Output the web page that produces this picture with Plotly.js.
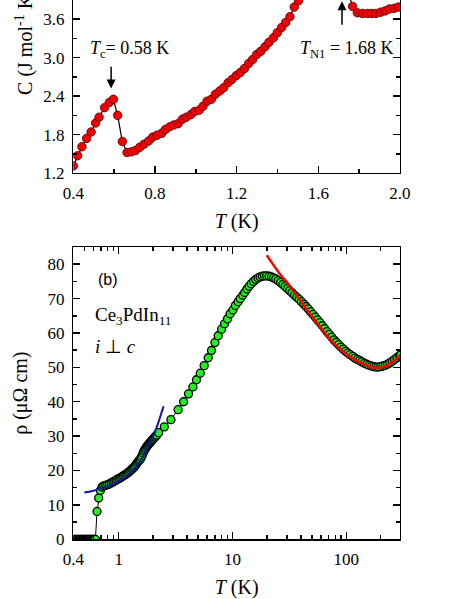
<!DOCTYPE html>
<html>
<head>
<meta charset="utf-8">
<script src="https://cdn.plot.ly/plotly-3.0.1.min.js"></script>
<style>
  html, body { margin: 0; padding: 0; background: #fff; }
  #chart { width: 463px; height: 599px; }
</style>
</head>
<body>
<div id="chart"></div>
<script>
// (a) specific heat, C vs T
var c_T = [0.400, 0.421, 0.442, 0.465, 0.487, 0.509, 0.526, 0.553, 0.576, 0.596,
    0.617, 0.640, 0.663, 0.684, 0.704, 0.725, 0.746, 0.769, 0.789, 0.810,
    0.833, 0.851, 0.872, 0.892, 0.913, 0.934, 0.953, 0.975, 0.994, 1.016,
    1.035, 1.055, 1.076, 1.096, 1.117, 1.136, 1.158, 1.177, 1.198, 1.218,
    1.238, 1.259, 1.278, 1.298, 1.318, 1.339, 1.358, 1.380, 1.399, 1.420,
    1.440, 1.461, 1.482, 1.503, 1.523, 1.544, 1.565, 1.586, 1.607, 1.628,
    1.649, 1.670, 1.690, 1.710, 1.730, 1.750, 1.768, 1.791, 1.817, 1.840,
    1.861, 1.882, 1.905, 1.927, 1.948, 1.971, 1.992];
var c_C = [1.31, 1.47, 1.61, 1.74, 1.84, 1.98, 2.07, 2.22, 2.30, 2.35,
    2.10, 1.69, 1.52, 1.53, 1.55, 1.60, 1.65, 1.70, 1.76, 1.79,
    1.82, 1.88, 1.92, 1.95, 1.97, 2.04, 2.07, 2.11, 2.16, 2.18,
    2.24, 2.32, 2.35, 2.43, 2.48, 2.53, 2.61, 2.66, 2.72, 2.77,
    2.83, 2.91, 2.97, 3.05, 3.10, 3.17, 3.24, 3.31, 3.39, 3.47,
    3.55, 3.64, 3.79, 3.89, 4.00, 4.10, 4.21, 4.32, 4.43, 4.55,
    4.66, 4.76, 4.83, 4.70, 4.35, 3.98, 3.80, 3.70, 3.69, 3.69,
    3.69, 3.69, 3.71, 3.73, 3.76, 3.77, 3.79];

// (b) resistivity, rho vs T
var rho_T = [0.40, 0.41, 0.42, 0.43, 0.44, 0.45, 0.46, 0.47, 0.48, 0.49,
    0.50, 0.51, 0.52, 0.53, 0.54, 0.55, 0.56, 0.57, 0.58, 0.59,
    0.60, 0.61, 0.625, 0.646, 0.668, 0.691, 0.715,
    0.74, 0.77, 0.80, 0.83, 0.86, 0.89, 0.92, 0.95, 0.98, 1.01,
    1.04, 1.07, 1.10, 1.13, 1.16, 1.19, 1.22, 1.25, 1.28, 1.31,
    1.34, 1.37, 1.40, 1.43, 1.46, 1.49, 1.52, 1.55, 1.58, 1.61,
    1.64, 1.67, 1.70, 1.73, 1.76, 1.79, 1.82, 1.85, 1.88, 1.91,
    1.94, 1.97, 2.00, 2.04, 2.08, 2.12, 2.16, 2.245,
    2.52, 2.88, 3.33, 3.72, 4.11, 4.49, 4.83, 5.21, 5.64, 6.12,
    6.54, 7.01, 7.49, 8.02, 8.52, 9.05, 9.54, 10.1, 10.6, 11.2,
    11.7, 12.3,
    12.8, 13.4, 14.0, 14.6, 15.3, 16.0, 16.8, 17.5, 18.3, 19.1,
    20.0, 21.0, 22.0, 23.0, 24.0, 25.2, 26.4, 27.7, 29.0, 30.4,
    31.8, 33.3, 35.0, 36.7, 38.5, 40.3, 42.3, 44.3, 46.4, 48.6,
    51.0, 53.5, 56.0, 58.7, 61.6, 64.5, 67.6, 70.9, 74.3, 77.9,
    81.6, 85.6, 89.7, 94.0, 98.5, 103, 108, 114, 119, 125,
    131, 137, 144, 151, 158, 166, 174, 182, 191, 200,
    210, 220, 230, 241, 253, 265, 278, 291, 300];
var rho_val = [0, 0, 0, 0, 0, 0, 0, 0, 0, 0,
    0, 0, 0, 0, 0, 0, 0, 0, 0, 0,
    0, 0, 0, 8.1, 12.0, 14.2, 15.2,
    15.5, 15.7, 15.9, 16.1, 16.4, 16.7, 16.9, 17.2, 17.5, 17.7,
    17.9, 18.2, 18.5, 18.7, 18.9, 19.2, 19.5, 19.8, 20.1, 20.4,
    20.7, 21.0, 21.4, 21.9, 22.3, 22.7, 23.0, 23.3, 23.8, 24.4,
    25.1, 25.7, 26.1, 26.5, 26.9, 27.2, 27.5, 27.8, 28.1, 28.3,
    28.6, 28.9, 29.1, 29.4, 29.7, 30.0, 30.3, 31.0,
    32.7, 34.8, 37.7, 40.0, 42.3, 44.3, 46.4, 48.3, 50.5, 52.8,
    54.9, 57.2, 59.2, 61.1, 62.7, 64.1, 65.6, 66.7, 68.0, 69.1,
    70.0, 71.0,
    71.8, 72.8, 73.6, 74.3, 75.0, 75.6, 76.0, 76.3, 76.5, 76.6,
    76.6, 76.5, 76.3, 76.0, 75.7, 75.2, 74.7, 74.1, 73.5, 72.9,
    72.3, 71.7, 71.0, 70.4, 69.8, 69.1, 68.4, 67.7, 67.0, 66.2,
    65.4, 64.6, 63.8, 63.0, 62.1, 61.3, 60.4, 59.6, 58.8, 58.0,
    57.3, 56.6, 55.9, 55.3, 54.7, 54.2, 53.7, 53.2, 52.7, 52.3,
    52.0, 51.6, 51.2, 50.9, 50.6, 50.4, 50.2, 50.1, 50.1, 50.2,
    50.4, 50.6, 50.9, 51.3, 51.8, 52.3, 52.8, 53.3, 53.6];

// low-T fit (blue) and high-T fit (red)
var fitLow_T = [0.50, 0.55, 0.60, 0.65, 0.70, 0.80, 0.90, 1.0, 1.1, 1.2,
    1.35, 1.5, 1.65, 1.8, 1.95, 2.1, 2.25, 2.4, 2.48];
var fitLow_rho = [13.6, 13.8, 14.1, 14.5, 14.9, 15.6, 16.2, 16.9, 17.7, 18.6,
    20.2, 22.1, 24.3, 26.6, 29.0, 31.5, 34.3, 37.2, 38.7];
var fitHigh_T = [20, 22, 24, 26, 28, 30, 33, 36, 40, 45,
    50, 55, 60, 67, 75, 85, 95, 105, 120, 135,
    150, 165, 180, 200, 220, 240, 260, 280, 300];
var fitHigh_rho = [82.6, 80.6, 78.8, 77.2, 75.9, 74.8, 72.9, 71.2, 69.2, 66.8,
    64.8, 63.0, 61.4, 59.3, 57.5, 55.8, 54.4, 53.3, 52.1, 51.3,
    50.6, 50.1, 49.9, 50.0, 50.4, 51.0, 51.8, 52.7, 53.7];

var rhoTickVals = [0.4, 1, 10, 100];
var rhoTickText = ['0.4', '1', '10', '100'];
var rhoMinorVals = [0.5, 0.6, 0.7, 0.8, 0.9, 2, 3, 4, 5, 6, 7, 8, 9,
    20, 30, 40, 50, 60, 70, 80, 90, 200];

var serif = '"Liberation Serif", "Times New Roman", serif';

var heat = {
    x: c_T,
    y: c_C,
    xaxis: 'x',
    yaxis: 'y',
    mode: 'lines+markers',
    type: 'scatter',
    line: { color: '#000000', width: 1.2 },
    marker: {
        size: 8.5,
        color: '#f20000',
        line: { color: '#4a0000', width: 0.8 }
    }
};

var resist = {
    x: rho_T,
    y: rho_val,
    xaxis: 'x2',
    yaxis: 'y2',
    mode: 'lines+markers',
    type: 'scatter',
    line: { color: '#000000', width: 1 },
    marker: {
        size: 8,
        color: '#22ee22',
        line: { color: '#000000', width: 1.3 }
    }
};

var lowFit = {
    x: fitLow_T,
    y: fitLow_rho,
    xaxis: 'x2',
    yaxis: 'y2',
    mode: 'lines',
    type: 'scatter',
    line: { color: '#16169a', width: 2, shape: 'spline' }
};

var highFit = {
    x: fitHigh_T,
    y: fitHigh_rho,
    xaxis: 'x2',
    yaxis: 'y2',
    mode: 'lines',
    type: 'scatter',
    line: { color: '#ff0000', width: 2.5, shape: 'spline' }
};

var data = [heat, resist, lowFit, highFit];

var axisStyle = {
    showline: true,
    linecolor: '#000',
    linewidth: 1.5,
    showgrid: false,
    zeroline: false,
    ticks: 'inside',
    ticklen: 7,
    tickwidth: 1.5,
    tickcolor: '#000',
    ticklabelstandoff: 4,
    tickfont: { family: serif, size: 17, color: '#000' }
};

function ax(extra) {
    return Object.assign({}, axisStyle, extra);
}

var layout = {
    width: 463,
    height: 599,
    margin: { l: 0, r: 0, t: 0, b: 0 },
    paper_bgcolor: '#fff',
    plot_bgcolor: '#fff',
    showlegend: false,
    xaxis: ax({
        domain: [0.1584, 0.8639],
        anchor: 'y',
        range: [0.4, 2.0],
        tick0: 0.4,
        dtick: 0.4,
        tickformat: '.1f',
        mirror: false,
        minor: { ticks: 'inside', ticklen: 4, tickwidth: 1.5, tickcolor: '#000', dtick: 0.2 },
        title: { text: '<i>T</i> (K)', font: { family: serif, size: 20, color: '#000' }, standoff: 12 }
    }),
    yaxis: ax({
        domain: [0.7112, 1],
        anchor: 'x',
        range: [1.2, 3.9],
        tick0: 1.2,
        dtick: 0.6,
        tickformat: '.1f',
        mirror: 'allticks',
        minor: { ticks: 'inside', ticklen: 4, tickwidth: 1.5, tickcolor: '#000', dtick: 0.3 }
    }),
    xaxis2: ax({
        domain: [0.1584, 0.8639],
        anchor: 'y2',
        type: 'log',
        range: [Math.log10(0.4), Math.log10(296)],
        tickmode: 'array',
        tickvals: rhoTickVals,
        ticktext: rhoTickText,
        mirror: 'allticks',
        minor: { ticks: 'inside', ticklen: 4, tickwidth: 1.5, tickcolor: '#000', tickmode: 'array', tickvals: rhoMinorVals },
        title: { text: '<i>T</i> (K)', font: { family: serif, size: 20, color: '#000' }, standoff: 12 }
    }),
    yaxis2: ax({
        domain: [0.0997, 0.5876],
        anchor: 'x2',
        range: [0, 85],
        dtick: 10,
        mirror: 'allticks',
        minor: { ticks: 'inside', ticklen: 4, tickwidth: 1.5, tickcolor: '#000', dtick: 5 },
        title: { text: 'ρ (μΩ cm)', font: { family: serif, size: 20, color: '#000' }, standoff: 14 }
    }),
    annotations: [
        {
            xref: 'paper', yref: 'paper', x: 0.054, y: 0.94,
            text: 'C (J mol<sup>-1</sup> K<sup>-1</sup>)', textangle: -90,
            showarrow: false, xanchor: 'center', yanchor: 'middle',
            font: { family: serif, size: 20, color: '#000' }
        },
        {
            xref: 'x', yref: 'y', x: 0.47, y: 3.12,
            text: '<i>T</i><sub>c</sub>= 0.58 K', showarrow: false,
            xanchor: 'left', yanchor: 'middle',
            font: { family: serif, size: 18, color: '#000' }
        },
        {
            xref: 'x', yref: 'y', x: 1.50, y: 3.12,
            text: '<i>T</i><sub>N1</sub> = 1.68 K', showarrow: false,
            xanchor: 'left', yanchor: 'middle',
            font: { family: serif, size: 18, color: '#000' }
        },
        {
            xref: 'x', yref: 'y', axref: 'x', ayref: 'y',
            x: 0.585, y: 2.52, ax: 0.585, ay: 2.88,
            text: '', showarrow: true, arrowhead: 2, arrowsize: 1.2,
            arrowwidth: 1.5, arrowcolor: '#000'
        },
        {
            xref: 'x', yref: 'y', axref: 'x', ayref: 'y',
            x: 1.716, y: 3.88, ax: 1.716, ay: 3.49,
            text: '', showarrow: true, arrowhead: 2, arrowsize: 1.2,
            arrowwidth: 1.5, arrowcolor: '#000'
        },
        {
            xref: 'paper', yref: 'paper', x: 0.233, y: 0.5326,
            text: '(b)', showarrow: false, xanchor: 'center', yanchor: 'middle',
            font: { family: '"Liberation Sans", Arial, sans-serif', size: 16, color: '#000' }
        },
        {
            xref: 'paper', yref: 'paper', x: 0.201, y: 0.4725,
            text: 'Ce<sub>3</sub>PdIn<sub>11</sub>', showarrow: false,
            xanchor: 'left', yanchor: 'middle',
            font: { family: serif, size: 19, color: '#000' }
        },
        {
            xref: 'paper', yref: 'paper', x: 0.201, y: 0.4212,
            text: '<i>i</i> ⊥ <i>c</i>', showarrow: false,
            xanchor: 'left', yanchor: 'middle',
            font: { family: serif, size: 19, color: '#000' }
        }
    ]
};

Plotly.newPlot('chart', data, layout, { staticPlot: true });
</script>
</body>
</html>
